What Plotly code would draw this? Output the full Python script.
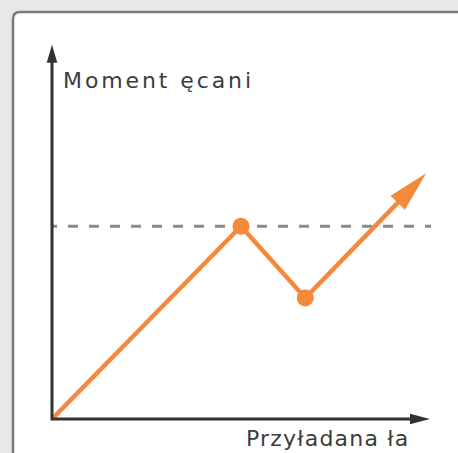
import numpy as np
import plotly.graph_objects as go

W, H = 458, 453

# Applied force (x) against the resulting torque (y)
force = [0.0, 5.0, 6.7, 9.9]
torque = [0.0, 5.1, 3.2, 6.5]
limit_torque = 5.1          # dashed reference level
limit_span = [0.0, 10.03]
x_axis_len = 10.0
y_axis_len = 9.9
y_label = "Moment ęcani"
x_label = "Przyładana ła"

# pixel geometry of the drawing area
ORIGIN_PX = (52, 419)
UNIT_PX = 37.8

ORANGE = "#f5883a"
AXIS = "#333333"
DASH = "#8a8a8a"
TEXT = "#3c3c3c"

x_range = [-ORIGIN_PX[0] / UNIT_PX, (W - ORIGIN_PX[0]) / UNIT_PX]
y_range = [-(H - ORIGIN_PX[1]) / UNIT_PX, ORIGIN_PX[1] / UNIT_PX]


def px_x(px):
    return (px - ORIGIN_PX[0]) / UNIT_PX


def px_y(py):
    return (ORIGIN_PX[1] - py) / UNIT_PX


def arrow_head(tail, tip, length_px, half_px):
    """Triangle for an arrow head ending at `tip`, plus the point where its base sits."""
    tail = np.asarray(tail, float)
    tip = np.asarray(tip, float)
    d = tip - tail
    d /= np.hypot(*d)
    n = np.array([-d[1], d[0]])
    base = tip - d * length_px / UNIT_PX
    a = base + n * half_px / UNIT_PX
    b = base - n * half_px / UNIT_PX
    xs = [tip[0], a[0], b[0], tip[0]]
    ys = [tip[1], a[1], b[1], tip[1]]
    return xs, ys, base, d


fig = go.Figure()

# dashed reference level: half a dash at the axis, then 10px dashes with 11px gaps
dash_pattern = ",".join(["5px", "11px"] + ["10px", "11px"] * 20)
fig.add_trace(go.Scatter(
    x=limit_span, y=[limit_torque, limit_torque], mode="lines",
    line=dict(color=DASH, width=3, dash=dash_pattern), hoverinfo="skip"))

# orange response path with arrow head at its end
hx, hy, hbase, hdir = arrow_head((force[-2], torque[-2]), (force[-1], torque[-1]), 41, 10)
line_end = hbase + hdir * 3 / UNIT_PX
fig.add_trace(go.Scatter(
    x=force[:-1] + [line_end[0]], y=torque[:-1] + [line_end[1]], mode="lines",
    line=dict(color=ORANGE, width=4.5), hoverinfo="skip"))
fig.add_trace(go.Scatter(
    x=hx, y=hy, mode="lines", fill="toself", fillcolor=ORANGE,
    line=dict(color=ORANGE, width=0), hoverinfo="skip"))
fig.add_trace(go.Scatter(
    x=force[1:3], y=torque[1:3], mode="markers",
    marker=dict(color=ORANGE, size=17, line=dict(width=0)), hoverinfo="skip"))

# axes with arrow heads
yx, yy, ybase, _ = arrow_head((0, 0), (0, y_axis_len), 18, 5.3)
xx, xy, xbase, _ = arrow_head((0, 0), (x_axis_len, 0), 20, 5.2)
fig.add_trace(go.Scatter(
    x=[0, 0, xbase[0] + 2 / UNIT_PX], y=[ybase[1] + 2 / UNIT_PX, 0, 0], mode="lines",
    line=dict(color=AXIS, width=3), hoverinfo="skip"))
for ax_, ay_ in ((yx, yy), (xx, xy)):
    fig.add_trace(go.Scatter(
        x=ax_, y=ay_, mode="lines", fill="toself", fillcolor=AXIS,
        line=dict(color=AXIS, width=0), hoverinfo="skip"))

# axis titles
fig.add_annotation(
    x=px_x(61), y=px_y(66), xref="x", yref="y", xanchor="left", yanchor="top",
    text=f'<span style="letter-spacing:2.9px">{y_label}</span>', showarrow=False,
    font=dict(family="DejaVu Sans", size=22, color=TEXT))
fig.add_annotation(
    x=px_x(244), y=px_y(424), xref="x", yref="y", xanchor="left", yanchor="top",
    text=f'<span style="letter-spacing:1.2px">{x_label}</span>', showarrow=False,
    font=dict(family="DejaVu Sans", size=22, color=TEXT))


# white card with rounded top-left corner running past the right and bottom edges
def pp(x, y):
    return f"{x / W:.5f},{1 - y / H:.5f}"


L, T, R, B, r = 13, 12, 480, 480, 7
card = (f"M{pp(L, B)} L{pp(L, T + r)} Q{pp(L, T)} {pp(L + r, T)} "
        f"L{pp(R, T)} L{pp(R, B)} Z")
fig.add_shape(type="path", path=card, xref="paper", yref="paper", layer="below",
              fillcolor="white", line=dict(color="#7a7a7a", width=2.5))

fig.update_layout(
    width=W, height=H, margin=dict(l=0, r=0, t=0, b=0), autosize=False,
    paper_bgcolor="#e8e8e8", plot_bgcolor="rgba(0,0,0,0)", showlegend=False,
    xaxis=dict(range=x_range, visible=False, fixedrange=True),
    yaxis=dict(range=y_range, visible=False, fixedrange=True),
)

fig.write_html("out.html", config={"displayModeBar": False})
